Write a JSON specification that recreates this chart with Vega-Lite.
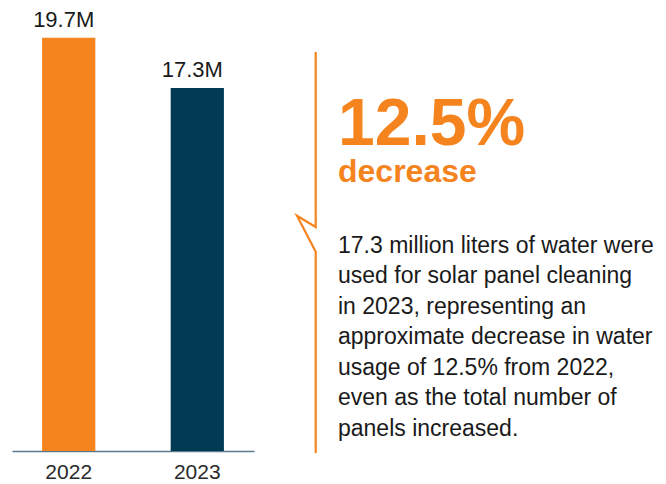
{
  "$schema": "https://vega.github.io/schema/vega-lite/v6.json",
  "padding": {"left": 12, "top": 0, "right": 0, "bottom": 0},
  "spacing": 38,
  "config": {
    "view": {"stroke": null},
    "font": "Liberation Sans",
    "text": {"font": "Liberation Sans"}
  },
  "hconcat": [
    {
      "width": 242,
      "height": 451,
      "data": {
        "values": [
          {"year": "2022", "liters": 19700000},
          {"year": "2023", "liters": 17300000}
        ]
      },
      "encoding": {
        "x": {
          "field": "year",
          "type": "nominal",
          "scale": {"paddingInner": 0.586, "paddingOuter": 0.234},
          "axis": {
            "title": null,
            "labelAngle": 0,
            "ticks": false,
            "domainColor": "#5b7a8e",
            "domainWidth": 1.5,
            "labelFont": "Liberation Sans",
            "labelFontSize": 21,
            "labelColor": "#2a2a2a",
            "labelPadding": 10
          }
        },
        "y": {
          "field": "liters",
          "type": "quantitative",
          "scale": {"domain": [0, 21500000], "nice": false},
          "axis": null
        }
      },
      "layer": [
        {
          "mark": {"type": "bar"},
          "encoding": {
            "color": {
              "field": "year",
              "type": "nominal",
              "scale": {"range": ["#F5841F", "#023A54"]},
              "legend": null
            }
          }
        },
        {
          "mark": {
            "type": "text",
            "baseline": "alphabetic",
            "dy": -11,
            "dx": -5,
            "fontSize": 22,
            "color": "#1a1a1a"
          },
          "encoding": {
            "text": {"field": "liters", "type": "quantitative", "format": ".3s"}
          }
        }
      ]
    },
    {
      "width": 374,
      "height": 484,
      "layer": [
        {
          "data": {
            "values": [
              {"i": 1, "x": 5, "y": -5.59},
              {"i": 2, "x": 5, "y": 0.148},
              {"i": 3, "x": 0, "y": -0.223},
              {"i": 4, "x": 5, "y": 0.957},
              {"i": 5, "x": 5, "y": 7.557}
            ]
          },
          "mark": {"type": "line", "color": "#F5841F", "strokeWidth": 2.2, "strokeJoin": "miter"},
          "encoding": {
            "x": {"field": "x", "type": "quantitative", "scale": {"domain": [0, 100], "nice": false, "zero": false}, "axis": null},
            "y": {"field": "y", "type": "quantitative", "scale": {"domain": [-7.295, 8.574], "nice": false, "zero": false, "reverse": true}, "axis": null},
            "order": {"field": "i", "type": "quantitative"}
          }
        },
        {
          "data": {"values": [{"t": "12.5%"}]},
          "mark": {"type": "text", "align": "left", "baseline": "alphabetic", "fontSize": 66, "fontWeight": "bold", "color": "#F5841F"},
          "encoding": {
            "x": {"datum": 10.96, "type": "quantitative"},
            "y": {"datum": -2.541, "type": "quantitative"},
            "text": {"field": "t"}
          }
        },
        {
          "data": {"values": [{"t": "decrease"}]},
          "mark": {"type": "text", "align": "left", "baseline": "alphabetic", "fontSize": 32, "fontWeight": "bold", "color": "#F5841F"},
          "encoding": {
            "x": {"datum": 10.96, "type": "quantitative"},
            "y": {"datum": -1.328, "type": "quantitative"},
            "text": {"field": "t"}
          }
        },
        {
          "data": {
            "values": [
              {"line": 1, "text": "17.3 million liters of water were"},
              {"line": 2, "text": "used for solar panel cleaning"},
              {"line": 3, "text": "in 2023, representing an"},
              {"line": 4, "text": "approximate decrease in water"},
              {"line": 5, "text": "usage of 12.5% from 2022,"},
              {"line": 6, "text": "even as the total number of"},
              {"line": 7, "text": "panels increased."}
            ]
          },
          "mark": {"type": "text", "align": "left", "baseline": "alphabetic", "fontSize": 23, "color": "#1a1a1a"},
          "encoding": {
            "x": {"datum": 10.96, "type": "quantitative"},
            "y": {"field": "line", "type": "quantitative"},
            "text": {"field": "text"}
          }
        }
      ]
    }
  ]
}
